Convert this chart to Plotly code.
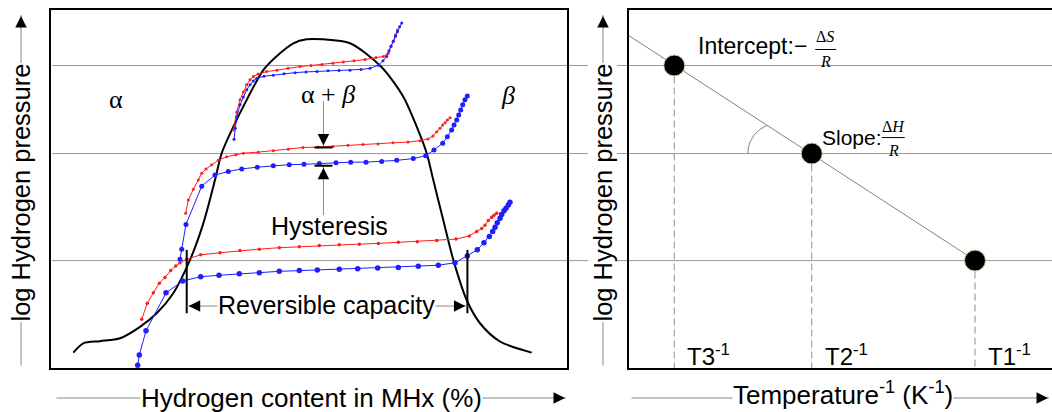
import numpy as np
import plotly.graph_objects as go

W, H = 1052, 412

# ---------------- data: left panel (PCT isotherms) ----------------
# x = hydrogen content in MHx (%), y = log hydrogen pressure (arb. units)
dome_x = [4.32, 6.26, 9.50, 13.37, 17.25, 20.48, 23.70, 26.94, 29.52, 31.78, 33.08, 35.33, 37.93, 41.14,
          44.38, 46.96, 49.55, 52.71, 57.95, 63.95, 68.28, 70.87, 72.81, 74.09, 76.03, 77.97, 80.56, 83.14,
          87.02, 93.16]
dome_y = [0.43, 0.69, 0.75, 0.83, 1.15, 1.53, 2.09, 3.02, 4.04, 5.25, 6.00, 6.74, 7.49, 8.32,
          8.79, 9.07, 9.18, 9.18, 9.07, 8.42, 7.58, 6.74, 6.00, 5.25, 4.13, 3.02, 1.90, 1.25,
          0.74, 0.43]

abs3_x = [35.33, 35.99, 36.63, 37.27, 37.93, 38.57, 39.21, 40.12, 41.80, 43.80, 45.93, 48.26, 50.39, 52.52,
          54.65, 56.65, 58.72, 60.85, 62.98, 64.40, 65.37, 65.89, 66.34, 66.76, 67.15]
abs3_y = [6.65, 7.15, 7.49, 7.71, 7.91, 8.05, 8.14, 8.21, 8.28, 8.32, 8.37, 8.42, 8.45, 8.48,
          8.51, 8.55, 8.58, 8.62, 8.67, 8.70, 8.79, 8.98, 9.13, 9.30, 9.44]
des3_x = [35.47, 35.72, 35.99, 36.63, 37.27, 37.93, 38.57, 39.21, 39.86, 41.28, 43.08, 45.16, 47.29, 49.42,
          51.55, 53.68, 55.81, 57.95, 60.08, 61.82, 63.43, 64.34, 65.06, 65.50, 65.89, 66.34, 66.76, 67.15,
          67.54, 67.97]
des3_y = [6.39, 6.70, 7.01, 7.35, 7.57, 7.77, 7.91, 8.02, 8.09, 8.15, 8.18, 8.22, 8.25, 8.27,
          8.28, 8.30, 8.31, 8.32, 8.34, 8.37, 8.46, 8.58, 8.70, 8.86, 8.99, 9.13, 9.27, 9.40,
          9.53, 9.64]

abs2_x = [26.10, 26.61, 27.58, 28.55, 29.21, 30.04, 31.14, 32.42, 34.05, 35.85, 37.27, 40.17, 43.08, 45.99,
          48.84, 51.74, 54.65, 57.56, 60.47, 63.37, 66.28, 69.19, 71.51, 73.06, 74.03, 74.75, 75.39, 75.91,
          76.36, 76.80, 77.33]
abs2_y = [4.32, 4.69, 4.99, 5.25, 5.44, 5.56, 5.68, 5.80, 5.90, 5.96, 6.00, 6.03, 6.07, 6.11,
          6.16, 6.17, 6.19, 6.22, 6.24, 6.26, 6.29, 6.31, 6.35, 6.40, 6.48, 6.60, 6.70, 6.79,
          6.85, 6.93, 6.99]
des2_x = [25.00, 25.33, 26.16, 29.21, 31.78, 34.36, 36.96, 39.98, 43.08, 46.18, 49.03, 52.00, 55.23, 58.08,
          61.05, 64.09, 67.00, 70.21, 72.62, 74.22, 75.91, 76.80, 77.65, 78.10, 78.62, 79.01, 79.40, 79.79,
          80.23, 80.68]
des2_y = [3.04, 3.32, 4.01, 5.08, 5.39, 5.49, 5.56, 5.61, 5.65, 5.68, 5.69, 5.71, 5.73, 5.75,
          5.75, 5.77, 5.80, 5.85, 5.93, 6.09, 6.28, 6.46, 6.65, 6.79, 6.93, 7.07, 7.21, 7.35,
          7.49, 7.60]

abs1_x = [17.58, 18.66, 19.83, 20.99, 22.09, 23.20, 24.17, 25.00, 26.30, 29.01, 32.75, 36.63, 40.37, 44.24,
          48.12, 52.00, 55.87, 59.75, 63.43, 67.31, 70.99, 74.75, 78.49, 81.07, 82.50, 83.47, 84.11, 84.75,
          85.41, 85.85, 86.38]
abs1_y = [1.36, 1.81, 2.10, 2.37, 2.53, 2.72, 2.85, 2.94, 3.04, 3.16, 3.22, 3.28, 3.32, 3.36,
          3.39, 3.42, 3.44, 3.46, 3.48, 3.51, 3.53, 3.56, 3.60, 3.69, 3.81, 3.90, 3.99, 4.12,
          4.21, 4.27, 4.32]
des1_x = [16.80, 17.11, 18.41, 22.29, 25.52, 29.01, 32.56, 36.49, 40.37, 44.24, 48.12, 51.61, 55.87, 59.44,
          63.31, 67.31, 71.18, 75.06, 78.29, 80.68, 82.62, 83.91, 84.94, 85.60, 86.05, 86.49, 87.02, 87.34,
          87.79, 88.18, 88.62, 88.95]
des1_y = [0.08, 0.36, 1.04, 2.10, 2.43, 2.55, 2.59, 2.63, 2.66, 2.70, 2.72, 2.74, 2.76, 2.77,
          2.79, 2.81, 2.84, 2.87, 2.94, 3.13, 3.30, 3.50, 3.67, 3.81, 3.93, 4.06, 4.18, 4.29,
          4.39, 4.46, 4.55, 4.63]

# plateau pressures (T3, T2, T1) and reversible capacity limits
levels = [8.45, 5.99, 3.00]
cap_lo, cap_hi = 26.3, 80.7
cap_bar = [1.53, 3.30]
cap_arrow_y = 1.73
hyst_x, hyst_top, hyst_bot = 52.8, 6.16, 5.65
hyst_tail = [7.45, 4.27]

# ---------------- data: right panel (van't Hoff plot) ----------------
inv_T = [1.07, 4.32, 8.18]          # 1/T (arb. units) for T3, T2, T1
t_labels = ["T3<sup>-1</sup>", "T2<sup>-1</sup>", "T1<sup>-1</sup>"]

# ---------------- layout geometry ----------------
L_X = [51 / W, 567 / W]
R_X = [629 / W, 1.0]
Y_DOM = [(H - 368) / H, (H - 10) / H]
XR_L, XR_R, YR = [0, 100], [0, 10], [0, 10]
px_x2 = (R_X[1] - R_X[0]) * W / (XR_R[1] - XR_R[0])
px_y = (Y_DOM[1] - Y_DOM[0]) * H / (YR[1] - YR[0])

SANS = "Liberation Sans, Arial, sans-serif"
SERIF = "Liberation Serif, Times New Roman, serif"
RED = "rgb(255,30,30)"
BLUE = "rgb(30,30,255)"
GRAY = "#8a8a8a"

fig = go.Figure()

# dome (miscibility gap)
fig.add_trace(go.Scatter(x=dome_x, y=dome_y, mode="lines", line=dict(color="black", width=2, shape="spline", smoothing=0.8),
                         hoverinfo="skip", showlegend=False))


def iso(x, y, color, ms):
    fig.add_trace(go.Scatter(x=x, y=y, mode="lines+markers", line=dict(color=color, width=1),
                             marker=dict(size=ms, color=color), hoverinfo="skip", showlegend=False))


iso(abs3_x, abs3_y, RED, 3)
iso(des3_x, des3_y, BLUE, 3)
iso(abs2_x, abs2_y, RED, 3)
iso(des2_x, des2_y, BLUE, 5)
iso(abs1_x, abs1_y, RED, 3.5)
iso(des1_x, des1_y, BLUE, 5.5)

# ---- right panel ----
slope, icpt = np.polyfit(inv_T, levels, 1)
lx = np.array([XR_R[0], inv_T[2]])
fig.add_trace(go.Scatter(x=lx, y=icpt + slope * lx, mode="lines", line=dict(color="#808080", width=1),
                         xaxis="x2", yaxis="y2", hoverinfo="skip", showlegend=False))
# dashed drop lines
dx, dy = [], []
for xv, yv in zip(inv_T, levels):
    dx += [xv, xv, None]
    dy += [yv, YR[0], None]
fig.add_trace(go.Scatter(x=dx, y=dy, mode="lines", line=dict(color="#8c8c8c", width=1, dash="7px,4px"),
                         xaxis="x2", yaxis="y2", hoverinfo="skip", showlegend=False))
# angle arc (slope marker) near T2 point
th = np.radians(np.linspace(180, 90, 200))
r_px, c_off_px = 30, -34
ax_ = inv_T[1] + (c_off_px + r_px * np.cos(th)) / px_x2
ay_ = levels[1] + (r_px * np.sin(th)) / px_y
keep = ay_ <= icpt + slope * ax_ + 1e-9
fig.add_trace(go.Scatter(x=ax_[keep], y=ay_[keep], mode="lines", line=dict(color="#808080", width=1),
                         xaxis="x2", yaxis="y2", hoverinfo="skip", showlegend=False))
# points
fig.add_trace(go.Scatter(x=inv_T, y=levels, mode="markers",
                         marker=dict(size=21, color="black", line=dict(color="#d6c7a1", width=1)),
                         xaxis="x2", yaxis="y2", hoverinfo="skip", showlegend=False))

shapes = []
# horizontal plateau lines across both panels
for lv in levels:
    shapes.append(dict(type="line", xref="paper", yref="y", x0=52 / W, x1=1.0, y0=lv, y1=lv,
                       line=dict(color="#999999", width=1), layer="below"))
# reversible capacity bars and arrow line
for xv in (cap_lo, cap_hi):
    shapes.append(dict(type="line", xref="x", yref="y", x0=xv, x1=xv, y0=cap_bar[0], y1=cap_bar[1],
                       line=dict(color="black", width=2)))
shapes.append(dict(type="line", xref="x", yref="y", x0=cap_lo, x1=cap_hi, y0=cap_arrow_y, y1=cap_arrow_y,
                   line=dict(color=GRAY, width=1)))
# hysteresis arrows
shapes.append(dict(type="line", xref="x", yref="y", x0=hyst_x, x1=hyst_x, y0=hyst_tail[0], y1=hyst_top,
                   line=dict(color=GRAY, width=1)))
shapes.append(dict(type="line", xref="x", yref="y", x0=hyst_x, x1=hyst_x, y0=hyst_bot, y1=hyst_tail[1],
                   line=dict(color=GRAY, width=1)))
for yv in (hyst_top, hyst_bot):
    shapes.append(dict(type="line", xref="x", yref="y", xsizemode="pixel", xanchor=hyst_x, x0=-9, x1=9,
                       y0=yv, y1=yv, line=dict(color="black", width=2)))
# fraction bars
shapes.append(dict(type="line", xref="x2", yref="y2", xsizemode="pixel", xanchor=inv_T[0], x0=141, x1=162,
                   ysizemode="pixel", yanchor=levels[0], y0=16, y1=16, line=dict(color="black", width=1)))
shapes.append(dict(type="line", xref="x2", yref="y2", xsizemode="pixel", xanchor=inv_T[1], x0=70, x1=93,
                   ysizemode="pixel", yanchor=levels[1], y0=16, y1=16, line=dict(color="black", width=1)))

ann = []


def head(x, y, ax, ay, xref="x", yref="y"):
    ann.append(dict(x=x, y=y, xref=xref, yref=yref, ax=ax, ay=ay, text="", showarrow=True,
                    arrowhead=2, arrowsize=2.3, arrowwidth=1, arrowcolor="black", standoff=2))


def line_ann(x, y, ax, ay):
    ann.append(dict(x=x, y=y, xref="paper", yref="paper", ax=ax, ay=ay, text="", showarrow=True,
                    arrowhead=0, arrowwidth=1, arrowcolor=GRAY))


def txt(x, y, t, size=25, xref="x", yref="y", family=SANS, **kw):
    d = dict(x=x, y=y, xref=xref, yref=yref, text=t, showarrow=False, xanchor="center", yanchor="middle",
             font=dict(family=family, size=size, color="black"))
    d.update(kw)
    ann.append(d)


# hysteresis / capacity heads
head(hyst_x, hyst_top, 0, -12)
head(hyst_x, hyst_bot, 0, 12)
head(cap_lo, cap_arrow_y, 14, 0)
head(cap_hi, cap_arrow_y, -14, 0)

# left panel labels
txt(12.6, 7.51, "α", 26, family=SERIF)
txt(53.7, 7.63, "α + <i>β</i>", 26, family=SERIF)
txt(88.6, 7.60, "<i>β</i>", 26, family=SERIF)
txt(53.9, 3.97, "Hysteresis", 25)
txt(53.4, 1.76, "Reversible capacity", 25, bgcolor="white", borderpad=0)

# right panel labels
for xv, lab in zip(inv_T, t_labels):
    txt(xv, YR[0], lab, 24, xref="x2", yref="y2", xanchor="left", yanchor="bottom", xshift=11, yshift=-4)
txt(inv_T[0], levels[0], "Intercept:−", 23, xref="x2", yref="y2", xanchor="left", xshift=22, yshift=19)
txt(inv_T[0], levels[0], "Δ<i>S</i>", 16, xref="x2", yref="y2", family=SERIF, xshift=151, yshift=29)
txt(inv_T[0], levels[0], "<i>R</i>", 16, xref="x2", yref="y2", family=SERIF, xshift=151, yshift=4)
txt(inv_T[1], levels[1], "Slope:", 21, xref="x2", yref="y2", xanchor="left", xshift=8, yshift=16)
txt(inv_T[1], levels[1], "Δ<i>H</i>", 16, xref="x2", yref="y2", family=SERIF, xshift=82, yshift=27)
txt(inv_T[1], levels[1], "<i>R</i>", 16, xref="x2", yref="y2", family=SERIF, xshift=82, yshift=3)

# axis title arrows (left & right y, bottom x)
for xp in (21, 603):
    line_ann(xp / W, 1 - 15 / H, 0, 352)
    head(xp / W, 1 - 14 / H, 0, 14, xref="paper", yref="paper")
    txt(xp / W, 1 - 192.5 / H, "log Hydrogen pressure", 25.5, xref="paper", yref="paper", textangle=-90,
        bgcolor="white", borderpad=0)
line_ann(566 / W, 1 - 398 / H, -511, 0)
head(567 / W, 1 - 398 / H, -14, 0, xref="paper", yref="paper")
txt(311.5 / W, 1 - 398 / H, "Hydrogen content in MHx (%)", 26, xref="paper", yref="paper", bgcolor="white", borderpad=0)
line_ann(1049 / W, 1 - 398 / H, -419, 0)
head(1050 / W, 1 - 398 / H, -14, 0, xref="paper", yref="paper")
txt(843 / W, 1 - 398 / H, "Temperature<sup>-1</sup> (K<sup>-1</sup>)", 26, xref="paper", yref="paper",
    bgcolor="white", borderpad=0, yshift=5)

ax_common = dict(showgrid=False, zeroline=False, showticklabels=False, ticks="", fixedrange=True)
fig.update_layout(
    width=W, height=H, autosize=False,
    margin=dict(l=0, r=0, t=0, b=0, pad=0),
    paper_bgcolor="white", plot_bgcolor="rgba(0,0,0,0)",
    showlegend=False,
    xaxis=dict(domain=L_X, range=XR_L, showline=True, mirror=True, linecolor="black", linewidth=2, **ax_common),
    yaxis=dict(domain=Y_DOM, range=YR, showline=True, mirror=True, linecolor="black", linewidth=2, **ax_common),
    xaxis2=dict(domain=R_X, range=XR_R, anchor="y2", showline=True, mirror=True, linecolor="black", linewidth=2, **ax_common),
    yaxis2=dict(domain=Y_DOM, range=YR, anchor="x2", showline=True, mirror=False, linecolor="black", linewidth=2, **ax_common),
    shapes=shapes,
    annotations=ann,
)

fig.write_html("out.html")
